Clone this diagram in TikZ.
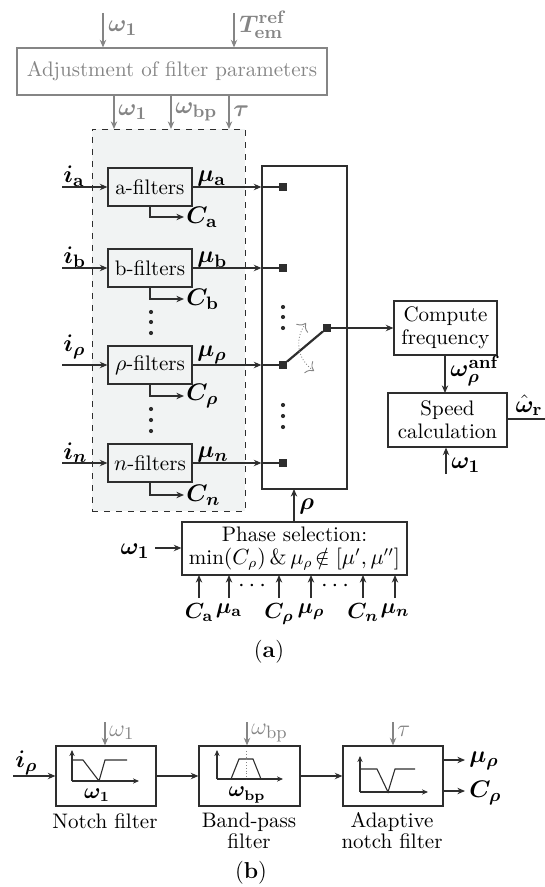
\documentclass[tikz,border=0pt]{standalone}
\usepackage{amsmath,amssymb,bm}
\usetikzlibrary{arrows.meta}
\DeclareMathSizes{11.5}{11.5}{9}{7}
\DeclareMathSizes{10.8}{10.8}{8.5}{6.5}
\definecolor{lc}{HTML}{2E2E2E}
\definecolor{gc}{HTML}{858585}
\definecolor{bgc}{HTML}{F1F3F3}
\tikzset{
  ln/.style={draw=lc, line width=0.55pt},
  arr/.style={ln, -{Stealth[length=3.8pt,width=3.2pt]}},
  garr/.style={draw=gc, line width=0.55pt, -{Stealth[length=3.8pt,width=3.2pt]}},
  blk/.style={draw=lc, line width=0.6pt, inner sep=1pt, align=center, font=\fontsize{10.5}{12.5}\selectfont},
  sq/.style={fill=lc, minimum size=3.6pt, inner sep=0pt},
  vdot/.style={circle, fill=lc, minimum size=2.1pt, inner sep=0pt},
  lbl/.style={inner sep=1pt, text=black, font=\fontsize{11.5}{13}\selectfont},
  slbl/.style={inner sep=1pt, text=black, font=\fontsize{10.8}{12}\selectfont},
  glbl/.style={inner sep=1pt, text=gc, font=\fontsize{11.5}{13}\selectfont},
  captxt/.style={inner sep=0pt, align=center, font=\fontsize{10.5}{10.5}\selectfont},
}
\begin{document}
\begin{tikzpicture}[x=0.5pt, y=-0.5pt]
\useasboundingbox (0,0) rectangle (545,887);

% ---------------- (a) ----------------
% adjustment block
\node[draw=gc, line width=0.6pt, text=gc, minimum width=155pt, minimum height=23.5pt, inner sep=0pt,
      font=\fontsize{10.5}{12}\selectfont] (adj) at (172,71.5) {Adjustment of filter parameters};
\coordinate (w1in) at (103,13);
\coordinate (tin) at (234,13);
\draw[garr] (w1in) -- (w1in |- adj.north);
\draw[garr] (tin) -- (tin |- adj.north);
\node[glbl, anchor=west] (lw1top) at (106,28) {$\bm{\omega}_{\mathbf{1}}$};
\node[glbl, anchor=west] (ltref) at (237,25) {$\bm{T}^{\mathbf{ref}}_{\mathbf{em}}$};

% dashed background
\node[draw=lc, dashed, line width=0.45pt, fill=bgc, minimum width=76.5pt, minimum height=191pt, inner sep=0pt]
  (bank) at (168.5,320) {};

\draw[garr] (adj.south -| 114,0) -- (114,129);
\draw[garr] (adj.south -| 171,0) -- (171,129);
\draw[garr] (adj.south -| 229,0) -- (229,129);
\node[glbl, anchor=west] (lw1b) at (116,112) {$\bm{\omega}_{\mathbf{1}}$};
\node[glbl, anchor=west] (lwbp) at (173,112) {$\bm{\omega}_{\mathbf{bp}}$};
\node[glbl, anchor=west] (ltau) at (231,111) {$\bm{\tau}$};

% switch box
\node[draw=lc, line width=0.6pt, minimum width=42.5pt, minimum height=161.5pt, inner sep=0pt] (sw) at (304.5,327.5) {};

% filter blocks
\node[blk, minimum width=42pt, minimum height=19pt] (afil) at (150,187) {a-filters};
\node[blk, minimum width=42pt, minimum height=19pt] (bfil) at (150,268) {b-filters};
\node[blk, minimum width=42pt, minimum height=19pt] (rfil) at (150,365) {$\rho$-filters};
\node[blk, minimum width=42pt, minimum height=19pt] (nfil) at (150,463) {$n$-filters};

% squares
\node[sq] (sqa) at (283,187) {};
\node[sq] (sqb) at (283,268) {};
\node[sq] (sqr) at (283,365) {};
\node[sq] (sqn) at (283,463) {};
\node[sq] (sqo) at (327,328) {};

% inputs
\coordinate (ia) at (62,187);
\coordinate (ib) at (62,268);
\coordinate (ir) at (62,365);
\coordinate (in) at (62,463);
\draw[arr] (ia) -- (afil.west);
\draw[arr] (ib) -- (bfil.west);
\draw[arr] (ir) -- (rfil.west);
\draw[arr] (in) -- (nfil.west);
\node[lbl, anchor=south west] (lia) at (61,189) {$\bm{i}_{\mathbf{a}}$};
\node[lbl, anchor=south west] (lib) at (61,270) {$\bm{i}_{\mathbf{b}}$};
\node[lbl, anchor=south west] (lir) at (61,361) {$\bm{i}_{\bm{\rho}}$};
\node[lbl, anchor=south west] (lin) at (61,465) {$\bm{i}_{\bm{n}}$};

% outputs mu
\foreach \f/\s in {afil/sqa, bfil/sqb, rfil/sqr, nfil/sqn}{
  \draw[arr] (\f.east) -- (\f.east -| sw.west);
  \draw[ln, line width=0.9pt] (\f.east -| sw.west) -- (\s);
}
\node[lbl, anchor=south west] (lma) at (195,189) {$\bm{\mu}_{\mathbf{a}}$};
\node[lbl, anchor=south west] (lmb) at (195,270) {$\bm{\mu}_{\mathbf{b}}$};
\node[lbl, anchor=south west] (lmr) at (195,366) {$\bm{\mu}_{\bm{\rho}}$};
\node[lbl, anchor=south west] (lmn) at (195,465) {$\bm{\mu}_{\bm{n}}$};

% C outputs
\node[lbl, anchor=west] (lca) at (184,217) {$\bm{C}_{\mathbf{a}}$};
\node[lbl, anchor=west] (lcb) at (184,299) {$\bm{C}_{\mathbf{b}}$};
\node[lbl, anchor=west] (lcr) at (184,396) {$\bm{C}_{\bm{\rho}}$};
\node[lbl, anchor=west] (lcn) at (184,495) {$\bm{C}_{\bm{n}}$};
\draw[arr] (afil.south) |- (lca.west);
\draw[arr] (bfil.south) |- (lcb.west);
\draw[arr] (rfil.south) |- (lcr.west);
\draw[arr] (nfil.south) |- (lcn.west);

% vertical dots
\foreach \y in {312,322,333,409,420,431}{ \node[vdot] at (151,\y) {}; }
\foreach \y in {307,317,328,405,416,427}{ \node[vdot] at (283,\y) {}; }

% switch
\draw[ln, line width=1.1pt] (sqr) -- (sqo);
\draw[draw=gc, line width=0.45pt, densely dotted, {To[length=3.5pt]}-{To[length=3.5pt]}]
  (306,323) .. controls (295,338) and (296,358) .. (314,371);

% compute frequency & speed
\node[blk, minimum width=51.5pt, minimum height=27pt] (cf) at (445.5,328) {Compute\\[-1pt]frequency};
\node[blk, minimum width=59.5pt, minimum height=27pt] (sc) at (447.5,420) {Speed\\[-1pt]calculation};
\draw[arr] (sqo) -- (cf.west);
\draw[arr] (cf.south -| 445,0) -- (445,393);
\node[lbl, anchor=west] (lanf) at (448,371) {$\bm{\omega}_{\bm{\rho}}^{\mathbf{anf}}$};
\coordinate (wout) at (545,419);
\draw[ln] (sc.east |- wout) -- (wout);
\node[lbl, anchor=south] (lwr) at (529,418) {$\hat{\bm{\omega}}_{\mathbf{r}}$};
\coordinate (w1s) at (446,474);
\draw[arr] (w1s) -- (w1s |- sc.south);
\node[lbl, anchor=west] (lw1s) at (449,465) {$\bm{\omega}_{\mathbf{1}}$};

% phase selection
\node[blk, minimum width=112.5pt, minimum height=26.5pt, inner sep=0pt] (ps) at (294.5,548.5)
  {Phase selection:\\[-1pt]min$(C_\rho)\,\&\,\mu_\rho\!\notin[\mu',\mu'']$};
\draw[arr] (ps.north -| 294,0) -- (294, 489);
\node[lbl, anchor=west] (lrho) at (297,506) {$\bm{\rho}$};
\coordinate (w1p) at (155,548);
\draw[arr] (w1p) -- (ps.west |- w1p);
\node[lbl, anchor=east] (lw1p) at (152,551) {$\bm{\omega}_{\mathbf{1}}$};

\foreach \x/\t [count=\i] in {199/{\bm{C}_{\mathbf{a}}}, 229/{\bm{\mu}_{\mathbf{a}}}, 279/{\bm{C}_{\bm{\rho}}}, 311/{\bm{\mu}_{\bm{\rho}}}, 363/{\bm{C}_{\bm{n}}}, 395/{\bm{\mu}_{\bm{n}}}}{
  \node[slbl, anchor=north] (pin\i) at (\x,601) {$\t$};
  \draw[arr] (\x,598) -- (\x,575);
}
\node[lbl] (pd1) at (254,586) {$\cdots$};
\node[lbl] (pd2) at (337,586) {$\cdots$};

\node[lbl] (capa) at (269,652) {(\textbf{a})};

% ---------------- (b) ----------------
\node[draw=lc, line width=0.6pt, minimum width=50pt, minimum height=30pt, inner sep=0pt] (nf) at (106,776) {};
\node[draw=lc, line width=0.6pt, minimum width=50.5pt, minimum height=30pt, inner sep=0pt] (bp) at (249.5,776) {};
\node[draw=lc, line width=0.6pt, minimum width=50pt, minimum height=30pt, inner sep=0pt] (an) at (393,776) {};

\coordinate (irb) at (13,776);
\draw[arr] (irb) -- (nf.west);
\node[lbl, anchor=south west] (lirb) at (13,777) {$\bm{i}_{\bm{\rho}}$};
\draw[arr] (nf.east) -- (bp.west);
\draw[arr] (bp.east) -- (an.west);

\coordinate (gw1) at (105,722);
\coordinate (gwbp) at (247,722);
\coordinate (gtau) at (393,722);
\draw[garr] (gw1) -- (gw1 |- nf.north);
\draw[garr] (gwbp) -- (gwbp |- bp.north);
\draw[garr] (gtau) -- (gtau |- an.north);
\node[glbl, anchor=west] (lgw1) at (107,733) {$\omega_1$};
\node[glbl, anchor=west] (lgwbp) at (249,733) {$\omega_{\mathrm{bp}}$};
\node[glbl, anchor=west] (lgtau) at (395,731) {$\tau$};

\coordinate (om) at (465,760);
\coordinate (oc) at (465,791);
\draw[arr] (an.east |- om) -- (om);
\draw[arr] (an.east |- oc) -- (oc);
\node[lbl, anchor=west] (lom) at (467,761) {$\bm{\mu}_{\bm{\rho}}$};
\node[lbl, anchor=west] (loc) at (467,793) {$\bm{C}_{\bm{\rho}}$};

% inner graphs
\draw[ln, -{Stealth[length=3pt,width=2.6pt]}] (72,781) -- (72,750);
\draw[ln, -{Stealth[length=3pt,width=2.6pt]}] (72,781) -- (139,781);
\draw[ln] (72,760) -- (83,760) -- (99,781) -- (105,760) -- (127,760);
\node[lbl, font=\fontsize{10.5}{11}\selectfont] (nw1) at (97,795) {$\bm{\omega}_{\mathbf{1}}$};

\draw[ln, -{Stealth[length=3pt,width=2.6pt]}] (217,779) -- (217,750);
\draw[ln, -{Stealth[length=3pt,width=2.6pt]}] (217,779) -- (283,779);
\draw[ln] (231,779) -- (239,759) -- (253,759) -- (261,779);
\draw[draw=gc, line width=0.4pt, densely dotted] (246,751) -- (246,779);
\node[lbl, font=\fontsize{10.5}{11}\selectfont] (bw) at (247,795) {$\bm{\omega}_{\mathbf{bp}}$};

\draw[ln, -{Stealth[length=3pt,width=2.6pt]}] (360,792) -- (360,756);
\draw[ln, -{Stealth[length=3pt,width=2.6pt]}] (360,792) -- (428,792);
\draw[ln] (360,769) -- (377,769) -- (388,792) -- (395,769) -- (415,769);

\node[captxt] (cnf) at (105,821) {Notch filter};
\node[captxt] (cbp) at (249,831) {Band-pass\\filter};
\node[captxt] (can) at (392,831) {Adaptive\\notch filter};
\node[lbl] (capb) at (251,873) {(\textbf{b})};
\end{tikzpicture}
\end{document}
